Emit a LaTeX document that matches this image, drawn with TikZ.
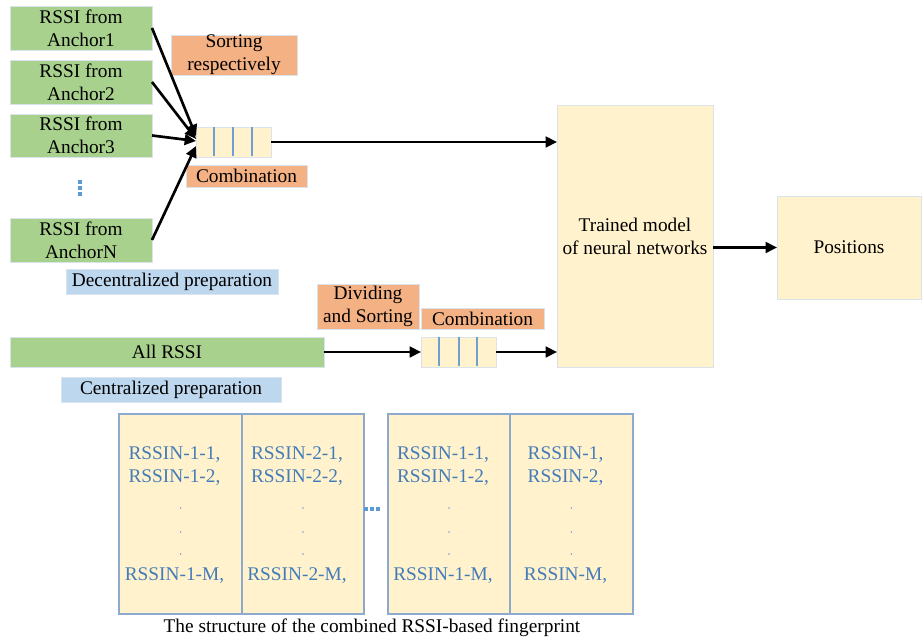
\documentclass[tikz,border=0pt]{standalone}
\usepackage{fontspec}
\setmainfont{Liberation Serif}
\usetikzlibrary{arrows.meta,calc}
\definecolor{gfill}{RGB}{169,209,142}
\definecolor{ofill}{RGB}{244,177,131}
\definecolor{bfill}{RGB}{189,215,238}
\definecolor{yfill}{RGB}{255,242,204}
\definecolor{edge}{RGB}{218,226,236}
\definecolor{fpedge}{RGB}{140,170,205}
\definecolor{divline}{RGB}{110,160,210}
\definecolor{celltext}{RGB}{68,124,185}
\definecolor{dotc}{RGB}{91,155,213}
\tikzset{
  px/.style n args={4}{minimum width={(#3-#1)*0.75pt}, minimum height={(#4-#2)*0.75pt}, at={({(#1+#3)/2},{(#2+#4)/2})}},
  basebox/.style={inner sep=0pt, outer sep=0pt, align=center, font=\fontsize{14.5}{17.2}\selectfont, draw=edge, line width=0.6pt},
  greenbox/.style={basebox, fill=gfill},
  orangebox/.style={basebox, fill=ofill},
  bluebox/.style={basebox, fill=bfill},
  yellowbox/.style={basebox, fill=yfill},
  fpbox/.style={inner sep=0pt, outer sep=0pt, draw=fpedge, fill=yfill, line width=0.8pt},
  divider/.style={draw=divline, line width=0.8pt},
  fpdivider/.style={draw=fpedge, line width=0.8pt},
  celltxt/.style={inner sep=0pt, text=celltext, font=\fontsize{14.5}{17.2}\selectfont},
  conn/.style={draw=black, line width=2pt, -{Triangle[length=8.5pt,width=8pt]}},
  bdot/.style={fill=dotc, draw=none, minimum size=2.4pt, inner sep=0pt},
  cdot/.style={circle, fill=celltext!70, draw=none, minimum size=1.3pt, inner sep=0pt},
}
\begin{document}
\begin{tikzpicture}[x=0.75pt,y=-0.75pt]
\useasboundingbox (0,0) rectangle (922,641);
% anchor boxes
\node[greenbox, px={10}{6}{152}{50}] (a1) {RSSI from\\Anchor1};
\node[greenbox, px={10}{60}{152}{104}] (a2) {RSSI from\\Anchor2};
\node[greenbox, px={10}{114}{152}{157}] (a3) {RSSI from\\Anchor3};
\node[greenbox, px={10}{218}{152}{262}] (aN) {RSSI from\\AnchorN};
\node[bdot] (vd1) at (80,182) {};
\node[bdot] (vd2) at (80,188) {};
\node[bdot] (vd3) at (80,194) {};
% labels
\node[orangebox, px={171}{35}{297}{75}] (sort) {Sorting\\respectively};
\node[orangebox, px={186}{165}{307}{187}] (comb1) {Combination};
\node[bluebox, px={66}{269}{278}{294}] (decen) {Decentralized preparation};
\node[orangebox, px={317}{284}{419}{329}] (divsort) {Dividing\\and Sorting};
\node[orangebox, px={421}{308}{544}{329}] (comb2) {Combination};
\node[greenbox, px={10}{337}{324}{367}] (all) {All RSSI};
\node[bluebox, px={61}{377}{281}{402}] (cen) {Centralized preparation};
% buffers
\node[yellowbox, px={196}{127}{271}{157}] (buf1) {};
\draw[divider] (214,127.5) -- (214,156.5);
\draw[divider] (233,127.5) -- (233,156.5);
\draw[divider] (252,127.5) -- (252,156.5);
\node[yellowbox, px={421}{337}{496}{367}] (buf2) {};
\draw[divider] (439,337.5) -- (439,366.5);
\draw[divider] (459,337.5) -- (459,366.5);
\draw[divider] (477,337.5) -- (477,366.5);
% model and positions
\node[yellowbox, px={557}{105}{713}{367}] (model) {Trained model\\of neural networks};
\node[yellowbox, px={777}{196}{921}{299}] (pos) {Positions};
% connectors
\coordinate (t1) at (196,136);
\coordinate (t2) at (196,139);
\coordinate (t3) at (196,141);
\coordinate (tN) at (196,146);
\draw[conn] (a1.east) -- (t1);
\draw[conn] (a2.east) -- (t2);
\draw[conn] (a3.east) -- (t3);
\draw[conn] (aN.east) -- (tN);
\draw[conn] (buf1.east) -- (model.west |- buf1.east);
\draw[conn] (all.east) -- (buf2.west);
\draw[conn] (buf2.east) -- (model.west |- buf2.east);
\draw[conn] (model.east |- pos.west) -- (pos.west);
% fingerprint structure
\node[fpbox, px={119}{414}{364}{614}] (fp1) {};
\draw[fpdivider] (242,414) -- (242,614);
\node[fpbox, px={388}{414}{633}{614}] (fp2) {};
\draw[fpdivider] (510,414) -- (510,614);
\node[bdot] (hd1) at (366,509) {};
\node[bdot] (hd2) at (372,509) {};
\node[bdot] (hd3) at (378,509) {};
% cell 1
\node[celltxt] (c1a) at (174.5,455) {RSSIN-1-1,};
\node[celltxt] (c1b) at (174.5,478) {RSSIN-1-2,};
\node[cdot] (c1d1) at (180.5,508) {};
\node[cdot] (c1d2) at (180.5,532) {};
\node[cdot] (c1d3) at (180.5,554) {};
\node[celltxt] (c1m) at (174.5,576) {RSSIN-1-M,};
% cell 2
\node[celltxt] (c2a) at (297,455) {RSSIN-2-1,};
\node[celltxt] (c2b) at (297,478) {RSSIN-2-2,};
\node[cdot] (c2d1) at (303,508) {};
\node[cdot] (c2d2) at (303,532) {};
\node[cdot] (c2d3) at (303,554) {};
\node[celltxt] (c2m) at (297,576) {RSSIN-2-M,};
% cell 3
\node[celltxt] (c3a) at (443,455) {RSSIN-1-1,};
\node[celltxt] (c3b) at (443,478) {RSSIN-1-2,};
\node[cdot] (c3d1) at (449,508) {};
\node[cdot] (c3d2) at (449,532) {};
\node[cdot] (c3d3) at (449,554) {};
\node[celltxt] (c3m) at (443,576) {RSSIN-1-M,};
% cell 4
\node[celltxt] (c4a) at (565.5,455) {RSSIN-1,};
\node[celltxt] (c4b) at (565.5,478) {RSSIN-2,};
\node[cdot] (c4d1) at (571.5,508) {};
\node[cdot] (c4d2) at (571.5,532) {};
\node[cdot] (c4d3) at (571.5,554) {};
\node[celltxt] (c4m) at (565.5,576) {RSSIN-M,};
\node[inner sep=0pt, font=\fontsize{14.5}{17.2}\selectfont] (cap) at (372,628) {The structure of the combined RSSI-based fingerprint};
\end{tikzpicture}
\end{document}
